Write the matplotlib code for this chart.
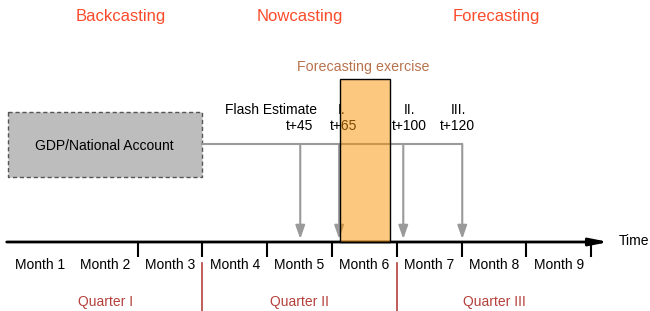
import matplotlib
matplotlib.use("Agg")
import matplotlib.pyplot as plt
from matplotlib.patches import Rectangle

plt.rcParams["font.family"] = ["Liberation Sans", "DejaVu Sans"]

# --- data ---
months = ["Month 1", "Month 2", "Month 3", "Month 4", "Month 5",
          "Month 6", "Month 7", "Month 8", "Month 9"]
quarters = ["Quarter I", "Quarter II", "Quarter III"]
phases = ["Backcasting", "Nowcasting", "Forecasting"]
phase_pos = [1.74, 4.51, 7.53]          # in months
releases = ["Flash Estimate", "I.", "II.", "III."]
lags = ["t+45", "t+65", "t+100", "t+120"]
release_pos = [4.51, 5.11, 6.10, 7.01]  # where each release lands on the time axis (months)
exercise = [5.12, 5.90]                 # forecasting exercise window (months)
gdp_span = [0, 3]                       # GDP / national account box (months)

# --- colours ---
PHASE_C = "#fb4b2b"
QUARTER_C = "#b5403b"
EXER_C = "#b8734d"
GRAY = "#9a9a9a"

# pixel-ish vertical layout (0 = top)
Y_AXIS, Y_LINE = 242, 144
MW, X0 = 64.8, 8   # px per month, px of month 0

fig = plt.figure(figsize=(6.5, 3.11), dpi=100)
ax = fig.add_axes([0, 0, 1, 1])
ax.set_xlim(-X0 / MW, (650 - X0) / MW)
ax.set_ylim(311, 0)
ax.axis("off")

# time axis
ax.annotate("", xy=(9.27, Y_AXIS), xytext=(-0.02, Y_AXIS),
            arrowprops=dict(arrowstyle="-|>,head_length=1.1,head_width=0.22",
                            color="black", lw=2, shrinkA=0, shrinkB=0))
ax.text(9.43, 245, "Time", ha="left", va="baseline", fontsize=10)
for m in range(2, len(months) + 1):
    ax.plot([m, m], [Y_AXIS, 257], color="black", lw=1.5, solid_capstyle="butt")
for i, m in enumerate(months):
    ax.text(i + 0.5, 269, m, ha="center", va="baseline", fontsize=10)

# quarters
for q in (3, 6):
    ax.plot([q, q], [263, 311], color=QUARTER_C, lw=1.2)
for i, q in enumerate(quarters):
    ax.text(3 * i + 1.5, 306, q, ha="center", va="baseline", fontsize=10, color=QUARTER_C)

# phases
for p, x in zip(phases, phase_pos):
    ax.text(x, 21, p, ha="center", va="baseline", fontsize=12, color=PHASE_C)

# GDP box
ax.add_patch(Rectangle((gdp_span[0], 112), gdp_span[1] - gdp_span[0], 65,
                       facecolor="#bdbdbd", edgecolor="#555555", lw=1,
                       ls=(0, (3, 2)), zorder=1))
ax.text(sum(gdp_span) / 2 - 0.01, 150, "GDP/National Account", ha="center",
        va="baseline", fontsize=10)

# release lines / arrows
ax.plot([gdp_span[1], release_pos[-1]], [Y_LINE, Y_LINE], color=GRAY, lw=1.5, zorder=2)
for x in release_pos:
    ax.annotate("", xy=(x, 239), xytext=(x, Y_LINE),
                arrowprops=dict(arrowstyle="-|>,head_length=0.8,head_width=0.28",
                                color=GRAY, lw=1.5, shrinkA=0, shrinkB=0), zorder=2)

name_pos = [(4.77, "right"), (5.09, "left"), (6.11, "left"), (6.84, "left")]
lag_pos = [(4.71, "right"), (5.18, "center"), (6.20, "center"), (6.94, "center")]
for r, (x, ha) in zip(releases, name_pos):
    ax.text(x, 114, r, ha=ha, va="baseline", fontsize=10)
for l, (x, ha) in zip(lags, lag_pos):
    ax.text(x, 130.5, l, ha=ha, va="baseline", fontsize=10)

# forecasting exercise window
ax.add_patch(Rectangle((exercise[0], 79), exercise[1] - exercise[0], Y_AXIS - 79,
                       facecolor=(251 / 255, 145 / 255, 0, 0.5),
                       edgecolor="black", lw=1, zorder=4))
ax.text(sum(exercise) / 2 - 0.03, 71, "Forecasting exercise", ha="center",
        va="baseline", fontsize=10.3, color=EXER_C)

fig.savefig("out.png", dpi=100)
